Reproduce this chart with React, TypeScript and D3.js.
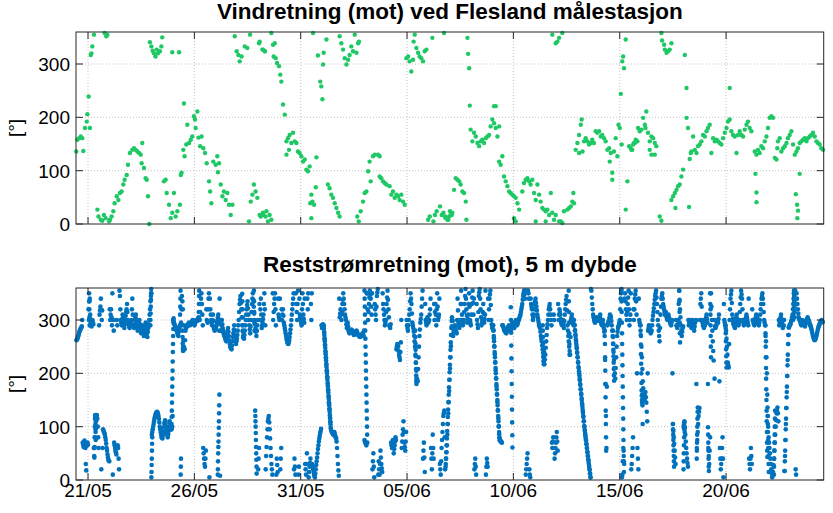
import React from 'react';
import * as d3 from 'd3';

// ---------- layout constants ----------
const W = 833;
const H = 513;
const PLOT_LEFT = 76;
const PLOT_RIGHT = 823.7;
const TOP_PANEL = { top: 32, bottom: 224 };
const BOT_PANEL = { top: 288, bottom: 480 };

// time is measured in days from 21/05 00:00
const T_START = -0.565;
const T_END = 34.59;

const xTickDays = [0, 5, 10, 15, 20, 25, 30];
const xTickLabels = ['21/05', '26/05', '31/05', '05/06', '10/06', '15/06', '20/06'];
const yTicks = [0, 100, 200, 300];

const titleTop = 'Vindretning (mot) ved Flesland målestasjon';
const titleBottom = 'Reststrømretning (mot), 5 m dybde';
const yLabel = '[°]';

// ---------- wind direction observations [day, degrees] ----------
const windObs: [number, number][] = [
  [-0.55,136],[-0.5,158],[-0.42,161],[-0.34,164],[-0.27,161],[-0.22,137],[-0.14,180],[-0.06,192],[-0.03,206],[0.03,239],[0.09,180],[0.13,317],[0.16,320],[0.2,333],[0.28,355],[0.78,358],[0.86,352],[0.91,355],
  [0.44,27],[0.49,14],[0.6,8],[0.67,6],[0.75,17],[0.83,11],[0.99,5],[1.03,8],[1.11,14],[1.19,24],[1.25,39],[1.35,52],[1.43,45],[1.5,58],[1.58,61],[1.66,74],[1.72,83],[1.82,92],[1.88,111],[1.97,133],[2.08,139],[2.16,142],[2.24,139],[2.32,136],[2.4,133],[2.48,130],[2.55,152],[2.52,114],[2.63,105],[2.71,86],[2.76,83],[2.82,52],[2.88,0],
  [2.91,341],[2.98,333],[3.04,325],[3.1,320],[3.17,314],[3.23,327],[3.29,320],[3.38,324],[3.45,333],[3.49,350],[3.96,322],[4.28,322],
  [3.57,80],[3.65,83],[3.7,58],[3.81,36],[3.89,11],[3.96,21],[4.04,58],[4.12,14],[4.2,24],[4.32,36],[4.36,92],[4.4,96],
  [4.48,139],[4.51,226],[4.54,127],[4.62,149],[4.67,186],[4.75,152],[4.83,158],[4.9,164],[4.98,202],[5.03,196],[5.06,180],[5.14,211],[5.19,162],[5.27,146],[5.34,164],[5.42,142],[5.5,133],
  [5.58,114],[5.69,80],[5.74,61],[5.8,39],[5.89,117],[6.0,111],[6.08,127],[6.16,114],[6.11,97],[6.24,74],[6.32,52],[6.39,61],[6.47,45],[6.55,58],[6.63,36],[6.71,17],[6.79,36],
  [6.9,352],[6.99,324],[7.07,317],[7.13,305],[7.22,314],[7.37,333],[7.49,330],[7.62,355],[8.04,339],[8.2,327],[8.31,324],
  [7.57,5],[7.65,42],[7.73,55],[7.8,74],[7.88,61],[7.96,49],[8.12,14],[8.24,17],[8.35,14],
  [8.07,342],[8.23,327],[8.31,324],[8.62,358],[8.7,336],[8.78,339],[8.73,314],[8.82,311],[8.89,302],[8.98,296],[9.04,280],[9.09,267],[9.17,224],[9.25,205],
  [9.33,155],[9.4,161],[9.48,167],[9.56,152],[9.64,171],[9.72,155],[9.33,130],[9.45,139],[9.8,152],[9.87,136],[9.95,133],[10.03,127],[10.11,117],[10.19,121],[10.27,102],[10.34,99],[10.42,108],[10.74,125],
  [8.07,17],[8.23,21],[8.39,24],[8.54,17],[8.62,8],[8.46,5],
  [10.58,358],[10.81,316],[10.92,267],[10.97,258],[11.05,299],[11.08,321],[11.21,346],[11.02,234],[11.83,352],[11.91,339],[11.99,327],[12.07,311],[12.15,299],[12.23,308],[12.3,317],[12.38,333],[12.46,324],[12.54,355],[12.62,321],[12.7,339],[12.74,342],
  [10.5,55],[10.45,39],[10.55,42],[10.63,36],[10.5,11],[10.71,69],[11.28,74],[11.36,67],[11.44,55],[11.52,49],[11.6,39],[11.68,30],[11.76,21],[11.83,14],
  [12.66,14],[12.73,5],[12.82,24],[12.93,42],[13.01,58],[13.09,61],[13.17,99],[13.24,117],[13.29,80],[13.4,127],[13.48,130],[13.64,130],[13.71,127],[13.71,89],[13.79,86],[13.87,80],[13.95,77],[14.03,74],[14.18,71],[14.26,55],[14.34,61],[14.42,49],[14.5,55],[14.58,52],[14.65,45],[14.73,55],[14.81,42],[14.89,36],
  [14.97,311],[15.05,314],[15.12,305],[15.2,286],[15.28,308],[15.31,342],[15.36,355],[15.44,330],[15.52,321],[15.59,314],[15.67,311],[15.75,305],[15.83,324],[15.91,327],[16.19,349],[16.74,358],
  [15.99,8],[16.07,14],[16.24,5],[16.31,17],[16.39,24],[16.55,33],[16.63,17],[16.71,21],[16.79,14],[16.94,8],[17.02,24],[17.1,17],
  [16.82,11],[16.9,8],[16.98,14],[17.05,17],[17.13,21],
  [17.84,349],[17.87,319],[17.92,292],[17.95,222],
  [17.21,64],[17.29,86],[17.37,83],[17.45,80],[17.52,74],[17.6,61],[17.68,58],[17.76,42],[17.79,8],
  [17.99,177],[18.07,155],[18.15,171],[18.23,164],[18.31,152],[18.39,146],[18.46,155],[18.54,158],[18.62,152],[18.7,161],[18.78,164],[18.86,167],[18.93,183],[19.01,196],[19.09,189],[19.17,180],[19.25,164],[19.33,183],[19.09,221],[19.17,221],
  [19.33,117],[19.4,111],[19.48,127],[19.56,89],[19.64,80],[19.72,71],[19.8,61],[19.87,58],[19.95,55],[20.03,52],[20.11,49],[20.19,39],[20.27,27],[20.03,11],[20.11,5],
  [20.42,61],[20.5,77],[20.58,83],[20.66,86],[20.74,80],[20.81,74],[20.89,83],[20.97,58],[21.05,45],[21.13,74],[21.21,55],[21.28,42],[21.36,30],[21.44,27],[21.52,24],[21.6,27],[21.68,17],[21.76,58],[21.83,21],[21.91,8],[21.99,17],[22.15,5],[22.23,5],[22.3,2],[22.38,24],[22.54,27],[22.62,30],[22.7,33],[22.77,42],[22.82,58],[22.85,39],[21.52,5],[21.05,5],
  [21.83,355],[21.99,339],[22.07,342],[22.15,349],[22.3,358],
  [22.93,139],[23.01,152],[23.09,167],[23.17,186],[23.21,196],[23.09,133],[23.25,136],[23.32,155],[23.4,161],[23.48,155],[23.56,149],[23.64,152],[23.71,158],[23.79,152],[23.87,174],[23.95,171],[24.03,174],[24.11,164],[24.18,167],[24.26,161],[24.34,155],[24.42,139],[24.5,142],[24.53,117],[24.58,133],[24.65,96],[24.65,83],[24.73,136],[24.81,161],[24.89,127],[24.94,186],[25.0,180],[25.09,149],[25.2,292],[25.12,305],[25.16,314],[25.05,244],[25.28,346],[25.36,80],[25.28,27],[25.44,146],[25.52,142],[25.59,139],[25.67,152],[25.75,158],[25.83,155],
  [25.55,139],[25.63,149],[25.71,152],[25.78,155],[25.86,180],[25.94,174],[26.02,177],[26.1,199],[26.18,186],[26.25,211],[26.21,180],[26.33,171],[26.41,155],[26.49,164],[26.57,161],[26.65,152],[26.72,146],[26.49,130],[26.65,130],[26.41,139],
  [26.96,358],[26.99,344],[27.09,336],[27.12,327],[27.2,321],[27.27,324],[27.35,327],[27.43,339],[28.06,317],[28.14,255],
  [28.14,199],[28.21,180],[28.29,122],[28.34,133],[28.37,136],[28.45,164],[28.53,139],[28.61,133],[28.68,146],[28.76,149],[28.84,155],[28.92,167],[29.0,164],[29.08,174],[29.15,180],[29.23,186],[29.31,133],[29.39,161],[29.47,155],[29.55,158],[29.62,155],[29.7,152],[29.78,149],[29.86,161],[29.94,171],[30.02,180],[30.09,192],[30.17,196],[30.17,255],[30.25,174],[30.33,167],[30.41,164],[30.49,133],[30.56,167],[30.64,174],[30.72,167],[30.8,164],[30.88,177],[30.96,186],[31.03,192],[31.11,180],[31.19,174],[31.35,136],[31.43,130],[31.5,139],[31.58,133],[31.66,146],[31.74,142],[31.82,155],[31.9,164],[31.97,180],[32.05,199],[32.13,202],[32.21,199],[32.29,124],[32.37,121],[32.41,142],[32.44,155],[32.52,161],[32.6,136],[32.68,142],[32.76,146],[32.84,152],[32.91,161],[32.99,167],[33.07,174],[33.15,149],[33.23,130],[33.31,136],[33.38,142],[33.46,152],[33.54,155],[33.62,158],[33.7,161],[33.78,155],[33.85,161],[33.93,164],[34.01,167],[34.09,171],[34.17,164],[34.25,155],[34.32,152],[34.4,149],[34.48,142],[34.56,139],
  [26.88,14],[26.96,6],[27.43,45],[27.51,52],[27.59,58],[27.67,64],[27.74,71],[27.82,74],[27.62,30],[27.9,89],[27.98,102],[28.26,32],[31.38,94],[31.43,59],[31.43,41],[33.28,56],[33.34,36],[33.38,25],[33.35,11],[33.46,94],
];

// ---------- residual current direction ----------
// hourly readings: [day, first hour, ...degrees at each full hour]
const currentHourly: number[][] = [
  [-1, 11, 262,265,270,276,281,285,288,70,62,74,60,18,68],
  [0, 0, 66,300,340,295,288,300,292,45,80,110,122,100,60,310,325,20,318,95,90,85,75,60,48,38],
  [1, 0, 35,300,320,290,10,280,65,55,48,290,60,20,345,300,290,310,295,285,300,315,330,300,290,285],
  [2, 0, 295,300,340,290,285,300,310,295,280,290,300,285,275,290,280,270,285,295,280,268,285,300,320,345],
  [3, 0, 85,95,105,115,122,126,128,124,115,100,90,80,78,90,105,112,100,88,80,92,110,105,95,100],
  [4, 0, 300,295,290,285,280,275,270,285,290,295,345,320,250,245,280,290,288,292,295,290,292,296,300,298],
  [5, 0, 290,295,300,298,302,305,300,330,350,310,60,40,25,55,300,295,340,5,320,300,290,310,285,280],
  [6, 0, 285,290,300,310,280,8,280,300,285,275,270,265,260,275,285,270,255,248,245,260,275,290,270,255],
  [7, 0, 265,280,300,330,345,320,290,270,265,280,300,320,335,310,290,275,300,330,350,325,300,285,270,290],
  [8, 0, 20,60,300,340,285,295,310,350,290,45,80,110,120,95,60,30,10,300,330,350,290,40,15,310],
  [9, 0, 300,20,60,300,320,295,285,275,265,258,255,262,275,290,310,330,350,40,10,330,300,355,25,310],
  [10, 0, 300,290,350,310,295,30,10,50,320,5,25,40,300,30,20,10,5,20,35,50,65,78,88,96],
  [11, 0, 285,292,288,264,240,216,192,168,144,120,96,90,88,85,90,82,78,60,30,8,305,320,300,330],
  [12, 0, 350,330,310,300,285,295,280,275,278,282,280,276,272,274,278,280,275,272,270,268,270,272,275,270],
  [13, 0, 75,70,65,350,300,330,355,340,310,20,50,5,320,300,345,358,35,10,55,30,15,330,310,290],
  [14, 0, 300,330,355,320,290,285,70,60,75,50,65,80,245,255,250,235,225,258,60,85,110,70,55,90],
  [15, 0, 290,280,300,320,350,330,295,285,270,250,220,190,185,230,270,295,310,340,40,70,15,300,290,305],
  [16, 0, 295,300,320,60,20,85,40,300,330,290,350,300,310,30,10,60,90,120,130,20,40,65,105,146],
  [17, 0, 188,230,272,300,270,285,290,280,275,340,295,285,300,355,310,290,300,330,358,320,295,310,350,300],
  [18, 0, 290,330,355,310,20,40,10,300,285,345,358,320,290,300,330,295,310,10,40,25,300,340,355,300],
  [19, 0, 285,290,266,236,206,176,146,116,86,75,72,70,290,285,280,278,275,282,286,290,285,280,288,295],
  [20, 0, 290,285,295,300,290,295,300,305,310,320,330,345,355,340,10,30,50,350,20,5,330,320,300,310],
  [21, 0, 330,340,325,310,300,290,285,270,260,245,230,217,235,260,285,300,320,330,310,290,60,80,300,50],
  [22, 0, 70,90,55,300,320,310,295,290,300,285,310,330,345,290,270,250,235,300,310,295,290,290,273,255],
  [23, 0, 238,221,204,187,170,153,135,118,101,87,74,60,46,32,19,5,355,330,310,300,295,300,305,298],
  [24, 0, 300,305,310,295,290,300,285,270,180,60,290,295,300,310,305,290,270,240,210,190,230,270,285,290],
  [25, 0, 300,340,358,10,60,30,350,320,300,330,355,290,310,20,45,80,300,340,355,310,60,20,300,290],
  [26, 0, 270,230,185,160,150,165,145,110,280,290,285,275,280,300,315,330,345,355,330,300,280,260,310,340],
  [27, 0, 350,330,320,310,315,305,300,310,300,295,290,300,105,80,55,30,290,285,300,355,320,290,270,285],
  [28, 0, 100,110,85,60,40,25,290,300,295,285,300,290,280,295,300,60,90,120,135,330,350,300,290,285],
  [29, 0, 290,300,310,295,60,30,80,350,300,260,224,190,285,290,300,295,310,60,20,40,80,5,300,290],
  [30, 0, 280,250,220,211,300,340,355,310,295,290,285,300,310,295,290,300,330,355,340,300,290,295,300,310],
  [31, 0, 300,290,40,20,60,30,300,295,290,300,310,305,295,290,300,320,340,350,330,300,290,260,200,120],
  [32, 0, 80,60,40,20,5,15,40,70,100,125,136,110,290,300,310,295,285,290,17,75,135,195,255,286],
  [33, 0, 290,295,300,310,330,350,355,10,340,320,305,300,295,290,300,298,292,288,296,300,305,300,295,290],
  [34, 0, 285,278,270,265,262,265,270,278,285,290,295,298,300,296],
];

// half-hour readings: [day, first hour, ...degrees at hour + 30 min]
const currentHalfHour: number[][] = [
  [-1, 11, 263,267,273,279,283,286,300,66,68,65,30,64,70],
  [0, 0, 320,335,310,292,295,296,60,62,95,118,115,80,290,318,340,300,60,92,88,80,68,55,42,36],
  [1, 0, 320,310,305,350,300,70,60,52,300,65,40,355,320,295,300,305,290,292,308,320,315,295,288,290],
  [2, 0, 298,320,310,288,292,305,300,288,285,295,292,280,282,285,275,278,290,288,275,278,292,310,335,350],
  [3, 0, 90,100,110,118,124,127,126,120,108,95,85,79,84,98,108,106,94,84,86,100,108,100,98,120],
  [4, 0, 298,292,288,282,278,272,278,288,292,320,335,290,248,262,285,289,290,294,292,291,294,298,299,295],
  [5, 0, 292,298,299,300,304,302,315,340,330,290,50,30,40,320,298,320,350,340,310,295,300,298,282,283],
  [6, 0, 288,295,305,295,340,300,290,292,280,272,268,262,268,280,278,262,250,246,252,268,282,280,262,260],
  [7, 0, 272,290,315,338,332,305,280,268,272,290,310,328,322,300,282,288,315,340,338,312,292,278,280,300],
  [8, 0, 40,330,320,310,290,302,330,320,20,62,95,115,108,78,45,20,350,315,340,320,10,28,340,305],
  [9, 0, 340,40,320,310,308,290,280,270,262,256,258,268,282,300,320,340,20,25,350,315,330,10,340,305],
  [10, 0, 295,320,330,302,340,20,30,340,350,15,32,330,350,25,15,8,12,28,42,58,72,83,92,290],
  [11, 0, 288,290,276,252,228,204,180,156,132,108,93,89,86,88,86,80,72,45,18,340,312,310,315,338],
  [12, 0, 340,320,305,292,290,288,278,276,280,281,278,274,273,276,279,278,273,271,269,269,271,274,272,280],
  [13, 0, 72,68,350,320,315,342,348,325,350,35,25,330,310,325,352,10,20,30,42,22,350,320,300,295],
  [14, 0, 315,342,338,305,288,292,65,68,62,58,72,75,250,252,242,230,240,300,72,95,90,62,72,300],
  [15, 0, 285,290,310,335,340,312,290,278,260,235,205,188,208,250,282,302,325,355,55,42,330,295,298,300],
  [16, 0, 298,310,340,40,50,60,330,315,310,320,325,305,340,20,35,75,105,125,80,25,52,85,125,167],
  [17, 0, 209,251,288,298,278,288,285,278,300,318,290,292,330,330,300,295,315,345,340,308,302,330,325,295],
  [18, 0, 310,342,332,340,30,25,330,292,315,352,340,305,295,315,312,302,355,25,32,340,320,348,328,292],
  [19, 0, 288,281,251,221,191,161,131,101,78,73,71,290,288,282,279,276,278,284,288,288,282,284,292,292],
  [20, 0, 288,290,298,295,292,298,302,308,315,325,338,350,348,355,20,40,355,340,10,340,325,310,305,320],
  [21, 0, 335,332,318,305,295,288,278,265,252,238,224,226,248,272,292,310,325,320,300,70,72,310,40,60],
  [22, 0, 80,72,330,310,315,302,292,295,292,298,320,338,318,280,260,242,268,305,302,292,292,281,264,247],
  [23, 0, 230,212,196,178,162,144,126,110,94,80,67,53,39,25,12,358,342,320,305,298,298,302,302,300],
  [24, 0, 302,308,302,292,295,292,278,225,120,175,292,298,305,308,298,280,255,225,200,210,250,278,288,295],
  [25, 0, 320,350,5,35,45,340,335,310,315,342,320,300,350,30,60,320,320,348,335,200,40,340,295,280],
  [26, 0, 250,208,172,155,158,155,128,200,285,288,280,278,290,308,322,338,350,342,315,290,270,285,325,345],
  [27, 0, 340,325,315,312,310,302,305,305,298,292,295,200,92,68,42,300,288,292,330,338,305,280,278,288],
  [28, 0, 105,98,72,50,32,300,295,298,290,292,295,285,288,298,180,75,105,128,300,340,325,295,288,288],
  [29, 0, 295,305,302,180,45,55,320,325,280,242,300,288,288,295,298,302,185,40,30,60,40,330,295,285],
  [30, 0, 265,235,215,255,320,348,332,302,292,288,292,305,302,292,295,315,342,348,320,295,292,298,305,305],
  [31, 0, 295,340,30,40,45,320,298,292,295,305,308,300,292,295,310,330,345,340,315,295,275,230,160,100],
  [32, 0, 70,50,30,12,10,28,55,85,112,130,125,300,295,305,302,290,288,300,45,105,165,225,272,290],
  [33, 0, 292,298,305,320,340,352,20,350,330,312,302,298,292,295,299,295,290,292,298,302,302,298,292,288],
  [34, 0, 282,274,268,263,263,268,274,282,288,292,296,299,298],
];

// fast turning episodes: [start day, step in minutes, ...degrees]
const currentFast: number[][] = [
  [0.05, 10, 350,335,320,305,290],
  [0.3, 10, 42,60,80,100,115,122,118,105,90,75],
  [2.93, 10, 290,300,312,325,338,350,358,5,15,28,40,55,68,80],
  [3.92, 10, 95,105,118,130,145,160,175,190,205,222,240,255,270,283,295,303],
  [4.33, 10, 310,325,340,355,10,25,40],
  [4.44, 10, 280,268,256,246,242,250,262],
  [5.2, 10, 300,315,330,345,355],
  [6.1, 10, 10,20,35,50,62,72,85,98,110,125,140,160],
  [7.25, 10, 349,335,320,305,290,278,267],
  [7.8, 10, 355,335,315,295,280],
  [7.86, 10, 130,120,110,100,88,75,62,50,38,25,12],
  [11.08, 15, 290,284,278,272,266,260,254,248,242,236,230,224,218,212,206,200,194,188,182,176,170,164,158,152,146,140,134,128,122,116,110,104,98],
  [13.0, 10, 355,340,325,310,295,280,265,250,235,220,205,190,175,160,145,130,115,100,85,70],
  [15.38, 10, 280,268,256,244,232,220,208,196,185,180,190],
  [16.82, 20, 30,40,52,65,78,92,105,118,132,146,160,174,188,202,216,230,244,258,272,285,298,305],
  [19.05, 20, 290,280,270,260,250,240,230,220,210,200,190,180,170,160,150,140,130,120,110,100,90,80,74],
  [19.88, 10, 324,300,276,252,228,204,180,156,132,108,84,61],
  [21.38, 10, 290,280,268,256,244,232,222,217,225,240],
  [22.6, 10, 355,335,315,295,275,255,235],
  [22.85, 35, 300,290,280,270,260,250,240,230,220,210,200,190,180,170,160,150,140,130,120,110,100,92,84,76,68,60,52,44,36,28,20,12,5],
  [24.3, 10, 280,255,230,205,180,155,130,105,80,55],
  [24.68, 10, 280,268,256,244,232,220,208,196,186],
  [25.08, 10, 355,335,315,295,275,255,235,215,195,175,155,135,115,95,75,55,35,15],
  [25.98, 10, 290,272,254,236,218,200,182,168,158,150,145,160,150,140,105],
  [27.5, 10, 105,95,85,75,65,55,45,35,25],
  [27.8, 10, 355,335,315,295,275,258],
  [28.0, 10, 20,35,50,65,80,95,108,100,90],
  [28.62, 10, 40,55,70,85,100,115,128,136],
  [29.15, 10, 99,85,70,55,40,25,17],
  [29.25, 10, 350,330,310,290,270,250,230],
  [29.98, 10, 290,275,260,245,232,220,211],
  [31.85, 10, 290,270,250,230,210,190,170,150,130,110,90,70,55,43],
  [31.95, 10, 136,120,105,90,75,60,45,30,15],
  [32.25, 10, 10,25,40,55,70,85,100,115,130],
  [32.75, 20, 17,35,55,75,95,115,135,155,175,195,215,235,255,272,286],
  [33.15, 10, 300,310,320,330,340,350,355,345,335,325,315,305],
];

const WIND_COLOR = '#1ec864';
const CURRENT_COLOR = '#0072bd';
const AXIS_COLOR = '#262626';
const GRID_COLOR = '#b4b4b4';
const FONT = "'Liberation Sans', Arial, Helvetica, sans-serif";

function currentPoints(): [number, number][] {
  const pts: [number, number][] = [];
  currentHourly.forEach((row) => {
    const [day, h0, ...vals] = row;
    vals.forEach((v, k) => pts.push([day + (h0 + k) / 24, v]));
  });
  currentHalfHour.forEach((row) => {
    const [day, h0, ...vals] = row;
    vals.forEach((v, k) => pts.push([day + (h0 + k + 0.5) / 24, v]));
  });
  currentFast.forEach((row) => {
    const [t0, step, ...vals] = row;
    vals.forEach((v, k) => pts.push([t0 + (k * step) / 1440, v]));
  });
  return pts;
}

const xScale = d3.scaleLinear().domain([T_START, T_END]).range([PLOT_LEFT, PLOT_RIGHT]);

function Panel(props: {
  top: number;
  bottom: number;
  title: string;
  titleY: number;
  points: [number, number][];
  color: string;
  radius: number;
  showXLabels: boolean;
}) {
  const { top, bottom, title, titleY, points, color, radius, showXLabels } = props;
  const y = d3.scaleLinear().domain([0, 360]).range([bottom, top]);
  const tickLen = 7;
  const midX = (PLOT_LEFT + PLOT_RIGHT) / 2;
  const visible = points.filter((p) => p[0] >= T_START && p[0] <= T_END && p[1] >= 0 && p[1] <= 360);
  return (
    <g>
      {xTickDays.map((d) => (
        <line key={'gx' + d} x1={xScale(d)} x2={xScale(d)} y1={top} y2={bottom}
          stroke={GRID_COLOR} strokeWidth={0.8} strokeDasharray="1,2" />
      ))}
      {yTicks.filter((v) => v > 0).map((v) => (
        <line key={'gy' + v} x1={PLOT_LEFT} x2={PLOT_RIGHT} y1={y(v)} y2={y(v)}
          stroke={GRID_COLOR} strokeWidth={0.8} strokeDasharray="1,2" />
      ))}
      {visible.map((p, i) => (
        <circle key={i} cx={xScale(p[0])} cy={y(p[1])} r={radius} fill={color} />
      ))}
      <rect x={PLOT_LEFT} y={top} width={PLOT_RIGHT - PLOT_LEFT} height={bottom - top}
        fill="none" stroke={AXIS_COLOR} strokeWidth={1} />
      {xTickDays.map((d) => (
        <g key={'tx' + d}>
          <line x1={xScale(d)} x2={xScale(d)} y1={bottom} y2={bottom - tickLen} stroke={AXIS_COLOR} strokeWidth={1} />
          <line x1={xScale(d)} x2={xScale(d)} y1={top} y2={top + tickLen} stroke={AXIS_COLOR} strokeWidth={1} />
        </g>
      ))}
      {yTicks.map((v) => (
        <g key={'ty' + v}>
          <line x1={PLOT_LEFT} x2={PLOT_LEFT + tickLen} y1={y(v)} y2={y(v)} stroke={AXIS_COLOR} strokeWidth={1} />
          <line x1={PLOT_RIGHT} x2={PLOT_RIGHT - tickLen} y1={y(v)} y2={y(v)} stroke={AXIS_COLOR} strokeWidth={1} />
          <text x={70} y={y(v) + 7} textAnchor="end" fontSize={19} fontFamily={FONT} fill="#000">{v}</text>
        </g>
      ))}
      {showXLabels && xTickDays.map((d, i) => (
        <text key={'lx' + d} x={xScale(d)} y={bottom + 17} textAnchor="middle" fontSize={19} fontFamily={FONT} fill="#000">
          {xTickLabels[i]}
        </text>
      ))}
      <text x={midX} y={titleY} textAnchor="middle" fontSize={22.5} fontWeight="bold" fontFamily={FONT} fill="#000">
        {title}
      </text>
      <text transform={`translate(22,${(top + bottom) / 2}) rotate(-90)`} textAnchor="middle" fontSize={19}
        fontFamily={FONT} fill="#000">{yLabel}</text>
    </g>
  );
}

export default function App() {
  const cur = currentPoints();
  return (
    <svg width={W} height={H} viewBox={`0 0 ${W} ${H}`}
      style={{ position: 'absolute', left: 0, top: 0, background: '#fff' }}>
      <rect x={0} y={0} width={W} height={H} fill="#fff" />
      <Panel top={TOP_PANEL.top} bottom={TOP_PANEL.bottom} title={titleTop} titleY={19} points={windObs}
        color={WIND_COLOR} radius={2.2} showXLabels={false} />
      <Panel top={BOT_PANEL.top} bottom={BOT_PANEL.bottom} title={titleBottom} titleY={272} points={cur}
        color={CURRENT_COLOR} radius={2.3} showXLabels={true} />
    </svg>
  );
}
